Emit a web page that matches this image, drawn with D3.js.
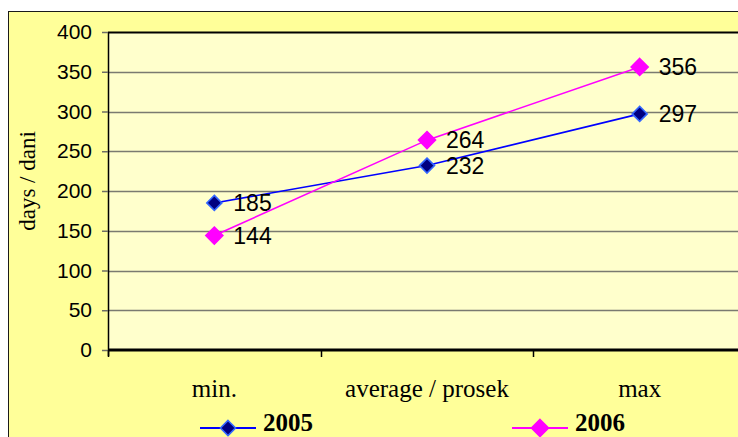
<!DOCTYPE html>
<html>
<head>
<meta charset="utf-8">
<script src="https://cdn.jsdelivr.net/npm/d3@7"></script>
<style>
    html, body { margin: 0; padding: 0; background: #ffffff; }
    svg { display: block; }
    .tick-label { font-family: Arial, "Liberation Sans", sans-serif; font-size: 21px; }
    .data-label { font-family: Arial, "Liberation Sans", sans-serif; font-size: 23px; }
    .cat-label { font-family: "Times New Roman", "Liberation Serif", serif; font-size: 25px; }
    .legend-label { font-family: "Times New Roman", "Liberation Serif", serif; font-size: 25px; font-weight: bold; }
</style>
</head>
<body>
<svg width="738" height="437"></svg>
<script>
"use strict";

var categories = ["min.", "average / prosek", "max"];
var seriesNames = ["2005", "2006"];
var values2005 = [185, 232, 297];
var values2006 = [144, 264, 356];
var yTicks = [0, 50, 100, 150, 200, 250, 300, 350, 400];

var colors = {
    "2005": {line: "#0000ff", fill: "#000080", stroke: "#3366ff"},
    "2006": {line: "#ff00ff", fill: "#ff00ff", stroke: "#ff00ff"}
};

var margin = {
    top: 32, // px
    left: 108, // px
    bottom: 87, // px
    right: -8 // px, plot area runs past the window
};
var width = 738 - margin.left - margin.right;
var height = 437 - margin.top - margin.bottom;

var svg = d3.select("svg");

// chart area
svg.append("rect")
    .attr("x", 8.5)
    .attr("y", 11.5)
    .attr("width", 760)
    .attr("height", 460)
    .attr("fill", "#ffff99")
    .attr("stroke", "#1a1a1a")
    .attr("stroke-width", 1);

var main = svg.append("g")
    .attr("transform", "translate(" + margin.left + "," + margin.top + ")");

var xScale = d3.scaleBand()
    .domain(categories)
    .range([0, width]);
var yScale = d3.scaleLinear()
    .domain([0, 400])
    .range([height, 0]);

// plot area
main.append("rect")
    .attr("x", 0)
    .attr("y", 0)
    .attr("width", width + 20)
    .attr("height", height)
    .attr("fill", "#ffffcc");

// gridlines
main.append("g")
    .selectAll("line")
    .data(yTicks.filter(function (d) {
        return d > 0 && d < 400;
    }))
    .join("line")
    .attr("x1", 0)
    .attr("x2", width + 20)
    .attr("y1", function (d) {
        return Math.round(yScale(d)) + 0.5;
    })
    .attr("y2", function (d) {
        return Math.round(yScale(d)) + 0.5;
    })
    .attr("stroke", "#7a7a70")
    .attr("stroke-width", 1.3);

// top border of plot area
main.append("line")
    .attr("x1", 0)
    .attr("x2", width + 20)
    .attr("y1", 0.5)
    .attr("y2", 0.5)
    .attr("stroke", "#000000")
    .attr("stroke-width", 2);

// y axis
var yAxis = d3.axisLeft(yScale)
    .tickValues(yTicks)
    .tickSize(6)
    .tickPadding(10)
    .tickFormat(d3.format("d"));
var yAxisGroup = main.append("g").call(yAxis);
yAxisGroup.select(".domain")
    .attr("d", "M0.5," + (height + 6) + "V0")
    .attr("stroke", "#000000")
    .attr("stroke-width", 1.5);
yAxisGroup.selectAll(".tick line")
    .attr("stroke", "#6e6e66")
    .attr("stroke-width", 1.5);
yAxisGroup.selectAll(".tick text")
    .attr("class", "tick-label")
    .attr("fill", "#000000")
    .attr("font-family", null)
    .attr("font-size", null);

// x axis: ticks at category boundaries
var xAxisGroup = main.append("g")
    .attr("transform", "translate(0," + height + ")");
xAxisGroup.append("line")
    .attr("x1", 0)
    .attr("x2", width + 20)
    .attr("y1", 0)
    .attr("y2", 0)
    .attr("stroke", "#000000")
    .attr("stroke-width", 3);
xAxisGroup.selectAll("line.cat-tick")
    .data(categories)
    .join("line")
    .attr("class", "cat-tick")
    .attr("x1", function (d) {
        return Math.round(xScale(d)) + 0.5;
    })
    .attr("x2", function (d) {
        return Math.round(xScale(d)) + 0.5;
    })
    .attr("y1", 0)
    .attr("y2", 7)
    .attr("stroke", "#000000")
    .attr("stroke-width", 1.5);
xAxisGroup.selectAll("text")
    .data(categories)
    .join("text")
    .attr("class", "cat-label")
    .attr("x", function (d) {
        return xScale(d) + xScale.bandwidth() / 2;
    })
    .attr("y", 47)
    .attr("text-anchor", "middle")
    .text(function (d) {
        return d;
    });

// y axis title
svg.append("text")
    .attr("class", "cat-label")
    .attr("style", "font-size: 23px")
    .attr("transform", "translate(35,181) rotate(-90)")
    .attr("text-anchor", "middle")
    .text("days / dani");

var line = d3.line()
    .x(function (d, i) {
        return xScale(categories[i]) + xScale.bandwidth() / 2;
    })
    .y(function (d) {
        return yScale(d);
    });

var diamond = function (r) {
    return "M0," + (-r) + "L" + r + ",0L0," + r + "L" + (-r) + ",0Z";
};

var series = [
    {name: "2005", values: values2005, r: 7.5},
    {name: "2006", values: values2006, r: 8.5}
];

series.forEach(function (s) {
    var c = colors[s.name];
    main.append("path")
        .datum(s.values)
        .attr("d", line)
        .attr("fill", "none")
        .attr("stroke", c.line)
        .attr("stroke-width", 1.6);
    var pts = main.append("g")
        .selectAll("g")
        .data(s.values)
        .join("g")
        .attr("transform", function (d, i) {
            return "translate(" +
                    (xScale(categories[i]) + xScale.bandwidth() / 2) +
                    "," + yScale(d) + ")";
        });
    pts.append("path")
        .attr("d", diamond(s.r))
        .attr("fill", c.fill)
        .attr("stroke", c.stroke)
        .attr("stroke-width", 1.6);
    pts.append("text")
        .attr("class", "data-label")
        .attr("x", 19)
        .attr("dy", "0.36em")
        .text(function (d) {
            return d;
        });
});

// legend, kept just inside the bottom edge
var legend = svg.append("g");
var legendItems = legend.selectAll("g")
    .data(seriesNames)
    .join("g")
    .attr("transform", function (d, i) {
        return "translate(" + [200, 512][i] + ",428)";
    });
legendItems.append("line")
    .attr("x1", 0)
    .attr("x2", 56)
    .attr("y1", 0)
    .attr("y2", 0)
    .attr("stroke", function (d) {
        return colors[d].line;
    })
    .attr("stroke-width", 1.8);
legendItems.append("path")
    .attr("transform", "translate(28,0)")
    .attr("d", function (d, i) {
        return diamond(series[i].r);
    })
    .attr("fill", function (d) {
        return colors[d].fill;
    })
    .attr("stroke", function (d) {
        return colors[d].stroke;
    })
    .attr("stroke-width", 1.6);
legendItems.append("text")
    .attr("class", "legend-label")
    .attr("x", 63)
    .attr("y", 3)
    .text(function (d) {
        return d;
    });
</script>
</body>
</html>
